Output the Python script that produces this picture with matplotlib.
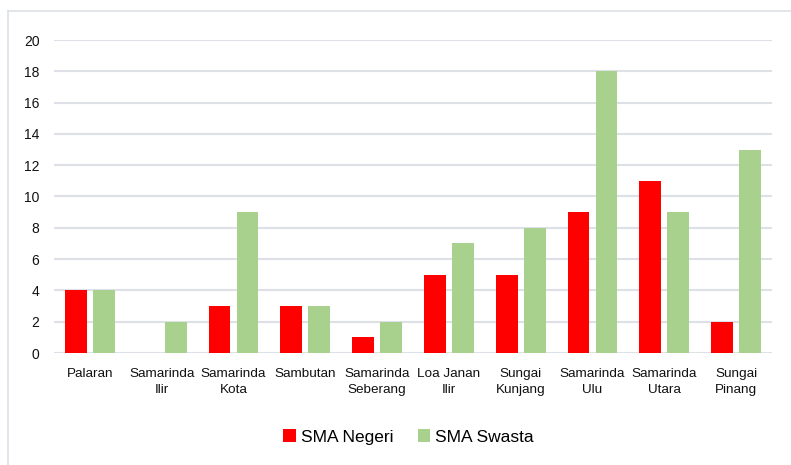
import matplotlib.pyplot as plt
from matplotlib.lines import Line2D
import numpy as np

plt.rcParams['font.family'] = ['Liberation Sans', 'DejaVu Sans']

kecamatan = ['Palaran', 'Samarinda\nIlir', 'Samarinda\nKota', 'Sambutan',
             'Samarinda\nSeberang', 'Loa Janan\nIlir', 'Sungai\nKunjang',
             'Samarinda\nUlu', 'Samarinda\nUtara', 'Sungai\nPinang']
sma_negeri = [4, 0, 3, 3, 1, 5, 5, 9, 11, 2]
sma_swasta = [4, 2, 9, 3, 2, 7, 8, 18, 9, 13]

fig = plt.figure(figsize=(7.91, 4.65), dpi=100)
ax = fig.add_axes([54 / 791, 1 - 353 / 465, (772 - 54) / 791, 313 / 465])

x = np.arange(len(kecamatan))
w = 0.305
ax.bar(x - 0.195, sma_negeri, w, color='#FF0000', label='SMA Negeri', zorder=3)
ax.bar(x + 0.195, sma_swasta, w, color='#A9D18E', label='SMA Swasta', zorder=3)

ax.set_xlim(-0.5, len(kecamatan) - 0.5)
ax.set_ylim(0, 20)
ax.set_yticks(range(0, 21, 2))
ax.set_xticks(x)
ax.set_xticklabels(kecamatan, fontsize=9.7, color='#111111', linespacing=1.5)
ax.tick_params(axis='y', labelsize=10, labelcolor='#111111', length=0, pad=10.5)
ax.tick_params(axis='x', length=0, pad=10.5)
ax.grid(axis='y', color='#DDE1E7', lw=1.5, zorder=0)
for s in ax.spines.values():
    s.set_visible(False)

fig.legend(loc='center', bbox_to_anchor=(0.5 + 13 / 791, 1 - 437 / 465), ncol=2,
           frameon=False, fontsize=12.5, handlelength=0.7, handleheight=0.7,
           handletextpad=0.3, columnspacing=1.4)

# light frame (top and left edges)
fig.add_artist(Line2D([8 / 791, 8 / 791], [0, 1 - 11 / 465], transform=fig.transFigure,
                      color='#DDE1E7', lw=1.2))
fig.add_artist(Line2D([8 / 791, 1], [1 - 11 / 465, 1 - 11 / 465], transform=fig.transFigure,
                      color='#DDE1E7', lw=1.2))

fig.savefig('out.png', dpi=100)
